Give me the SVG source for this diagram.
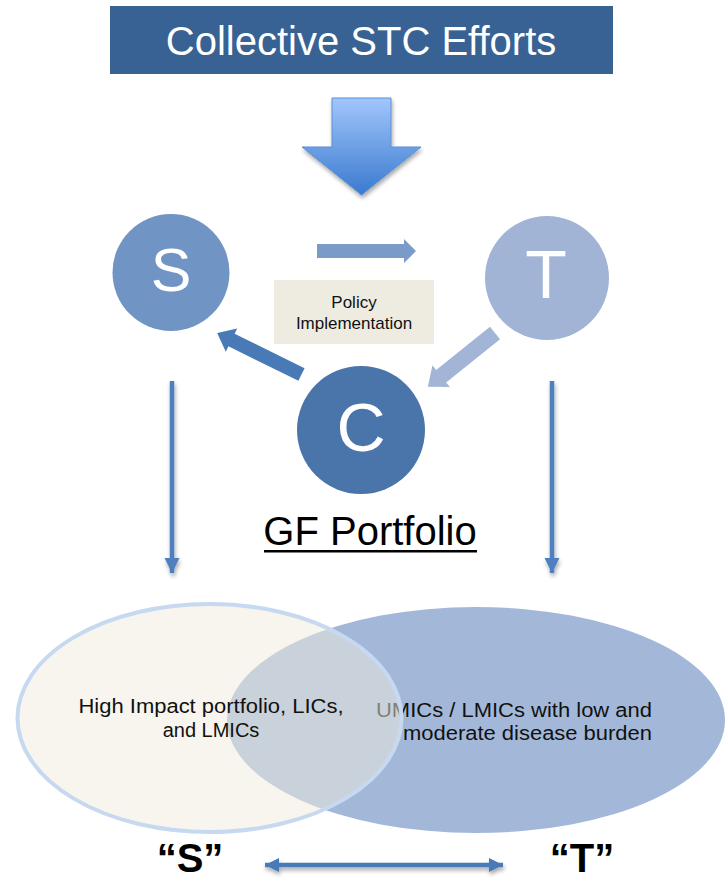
<svg xmlns="http://www.w3.org/2000/svg" width="725" height="881" viewBox="0 0 725 881">
<defs>
<linearGradient id="bigGrad" x1="0" y1="0" x2="0" y2="1">
<stop offset="0" stop-color="#a2c6fc"/>
<stop offset="1" stop-color="#3a7acf"/>
</linearGradient>
<filter id="shadow" x="-20%" y="-20%" width="140%" height="140%">
<feGaussianBlur in="SourceAlpha" stdDeviation="2"/>
<feOffset dx="1" dy="3" result="b"/>
<feComponentTransfer><feFuncA type="linear" slope="0.35"/></feComponentTransfer>
<feMerge><feMergeNode/><feMergeNode in="SourceGraphic"/></feMerge>
</filter>
<marker id="headV" viewBox="0 0 10 10" refX="10" refY="5" markerWidth="3.4" markerHeight="3.4" orient="auto" markerUnits="strokeWidth">
<path d="M0,0 L10,5 L0,10 Z" fill="#4f7fbf"/>
</marker>
<marker id="headD" viewBox="0 0 10 10" refX="10" refY="5" markerWidth="3.2" markerHeight="3.2" orient="auto-start-reverse" markerUnits="strokeWidth">
<path d="M0,0 L10,5 L0,10 Z" fill="#4a7ab8"/>
</marker>
</defs>
<style>
text { font-family: "Liberation Sans", Arial, sans-serif; }
.circ-label { fill: #ffffff; text-anchor: middle; }
.body { fill: #111111; font-size: 20px; }
</style>

<g id="title">
<rect x="110" y="6" width="503" height="68" fill="#386293"/>
<text x="361" y="55" font-size="40" fill="#ffffff" text-anchor="middle">Collective STC Efforts</text>
</g>

<g id="big-arrow" filter="url(#shadow)">
<polygon points="332,98 391,98 391,147 421,147 361.5,195 302,147 332,147" fill="url(#bigGrad)" stroke="#5b8fd6" stroke-width="1"/>
</g>

<g id="venn-T">
<ellipse cx="476" cy="720" rx="249" ry="113" fill="#a3b8d8"/>
<text class="body" x="652" y="717" text-anchor="end" textLength="276" lengthAdjust="spacingAndGlyphs">UMICs / LMICs with low and</text>
<text class="body" x="652" y="740" text-anchor="end" textLength="249" lengthAdjust="spacingAndGlyphs">moderate disease burden</text>
</g>

<g id="venn-S">
<ellipse cx="209.5" cy="718" rx="192" ry="114" fill="#efebdc" fill-opacity="0.5" stroke="#c6d9f1" stroke-width="4"/>
<text class="body" x="211" y="713" text-anchor="middle" textLength="265" lengthAdjust="spacingAndGlyphs">High Impact portfolio, LICs,</text>
<text class="body" x="211" y="737" text-anchor="middle">and LMICs</text>
</g>

<g id="node-S">
<circle cx="171" cy="272.5" r="58.5" fill="#7094c4"/>
<text class="circ-label" x="171" y="291" font-size="61">S</text>
</g>

<g id="node-T">
<circle cx="547" cy="278" r="62" fill="#a1b4d6"/>
<text class="circ-label" x="546" y="298" font-size="68">T</text>
</g>

<g id="node-C">
<circle cx="361" cy="430" r="64" fill="#4a75aa"/>
<text class="circ-label" x="361" y="451" font-size="68">C</text>
</g>

<g id="policy">
<rect x="274" y="280" width="160" height="64" fill="#eeece1"/>
<text x="354" y="308" font-size="17" fill="#111111" text-anchor="middle">Policy</text>
<text x="354" y="329" font-size="17" fill="#111111" text-anchor="middle">Implementation</text>
</g>

<g id="gf-portfolio">
<text x="370" y="545" font-size="40" fill="#000000" text-anchor="middle">GF Portfolio</text>
<rect x="264" y="550" width="213" height="2.5" fill="#000000"/>
</g>

<g id="labels">
<text x="190" y="872" font-size="40" font-weight="bold" fill="#000000" text-anchor="middle">“S”</text>
<text x="582" y="872" font-size="40" font-weight="bold" fill="#000000" text-anchor="middle">“T”</text>
</g>

<g id="connectors">
<polygon points="317,244 404,244 404,239 416,251 404,263 404,258 317,258" fill="#7a9bc8"/>
<polygon points="0,-7 78,-7 78,-13 94,0 78,13 78,7 0,7" fill="#4a7ab5" transform="translate(301.5,374.5) rotate(206.2)"/>
<polygon points="0,-8 69,-8 69,-14 86,0 69,14 69,8 0,8" fill="#a3b5d6" transform="translate(495,333) rotate(141.3)"/>
<g filter="url(#shadow)">
<line x1="172" y1="381" x2="172" y2="573" stroke="#4f7fbf" stroke-width="4.5" marker-end="url(#headV)"/>
<line x1="552" y1="381" x2="552" y2="573" stroke="#4f7fbf" stroke-width="4.5" marker-end="url(#headV)"/>
<line x1="265" y1="865" x2="503" y2="865" stroke="#4a7ab8" stroke-width="4.5" marker-start="url(#headD)" marker-end="url(#headD)"/>
</g>
</g>
</svg>
